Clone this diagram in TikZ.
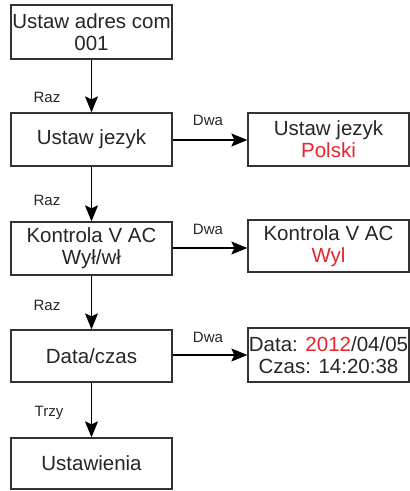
\documentclass[tikz,border=0pt]{standalone}
\usepackage{fontspec}
\setmainfont{Liberation Sans}
\usetikzlibrary{arrows.meta,positioning}
\definecolor{boxText}{HTML}{262626}
\definecolor{valRed}{HTML}{E8242C}

\tikzset{
    menuBox/.style={draw=black!80, line width=1.3pt, fill=white, text=boxText,
                    minimum width=161pt, minimum height=53pt, align=center,
                    inner sep=0pt, font=\fontsize{20.5}{22}\selectfont},
    stepArrow/.style={line width=1.3pt, -{Stealth[length=16pt,width=13pt,inset=3pt]}},
    keyLabel/.style={text=boxText, font=\fontsize{15}{17}\selectfont, inner sep=0pt}
}

\begin{document}
\begin{tikzpicture}[x=1pt, y=-1pt]
    \useasboundingbox (0,0) rectangle (410,491);

    % Left column
    \node[menuBox, minimum height=54pt] (adres) at (91.5, 32) {Ustaw adres com\\001};
    \node[menuBox] (jezyk) at (91.5, 139.5) {Ustaw jezyk};
    \node[menuBox] (kontrola) at (91.5, 248.5) {Kontrola V AC\\Wy\l/w\l};
    \node[menuBox, minimum height=52pt] (data) at (91.5, 356) {Data/czas};
    \node[menuBox, minimum height=51pt] (ustawienia) at (91.5, 463.5) {Ustawienia};

    % Right column
    \node[menuBox] (jezykVal) at (328.5, 139.5) {Ustaw jezyk\\\textcolor{valRed}{Polski}};
    \node[menuBox, minimum height=52pt] (kontrolaVal) at (328.5, 246) {Kontrola V AC\\\textcolor{valRed}{Wyl}};
    \node[menuBox, minimum height=54pt] (dataVal) at (328.5, 355) {Data: \textcolor{valRed}{2012}/04/05\\Czas: 14:20:38};

    % Down arrows
    \draw[stepArrow] (adres) -- (jezyk);
    \draw[stepArrow] (jezyk) -- (kontrola);
    \draw[stepArrow] (kontrola) -- (data);
    \draw[stepArrow] (data) -- (ustawienia);
    \node[keyLabel] (raz1) at (47, 97) {Raz};
    \node[keyLabel] (raz2) at (47, 200) {Raz};
    \node[keyLabel] (raz3) at (47, 305) {Raz};
    \node[keyLabel] (trzy) at (49, 413) {Trzy};

    % Side arrows
    \draw[stepArrow] (jezyk.east |- 0,140) -- (jezykVal.west |- 0,140);
    \draw[stepArrow] (kontrola.east |- 0,248) -- (kontrolaVal.west |- 0,248);
    \draw[stepArrow] (data.east |- 0,355) -- (dataVal.west |- 0,355);
    \node[keyLabel] (dwa1) at (208, 120) {Dwa};
    \node[keyLabel] (dwa2) at (208, 229) {Dwa};
    \node[keyLabel] (dwa3) at (208, 337) {Dwa};
\end{tikzpicture}
\end{document}
